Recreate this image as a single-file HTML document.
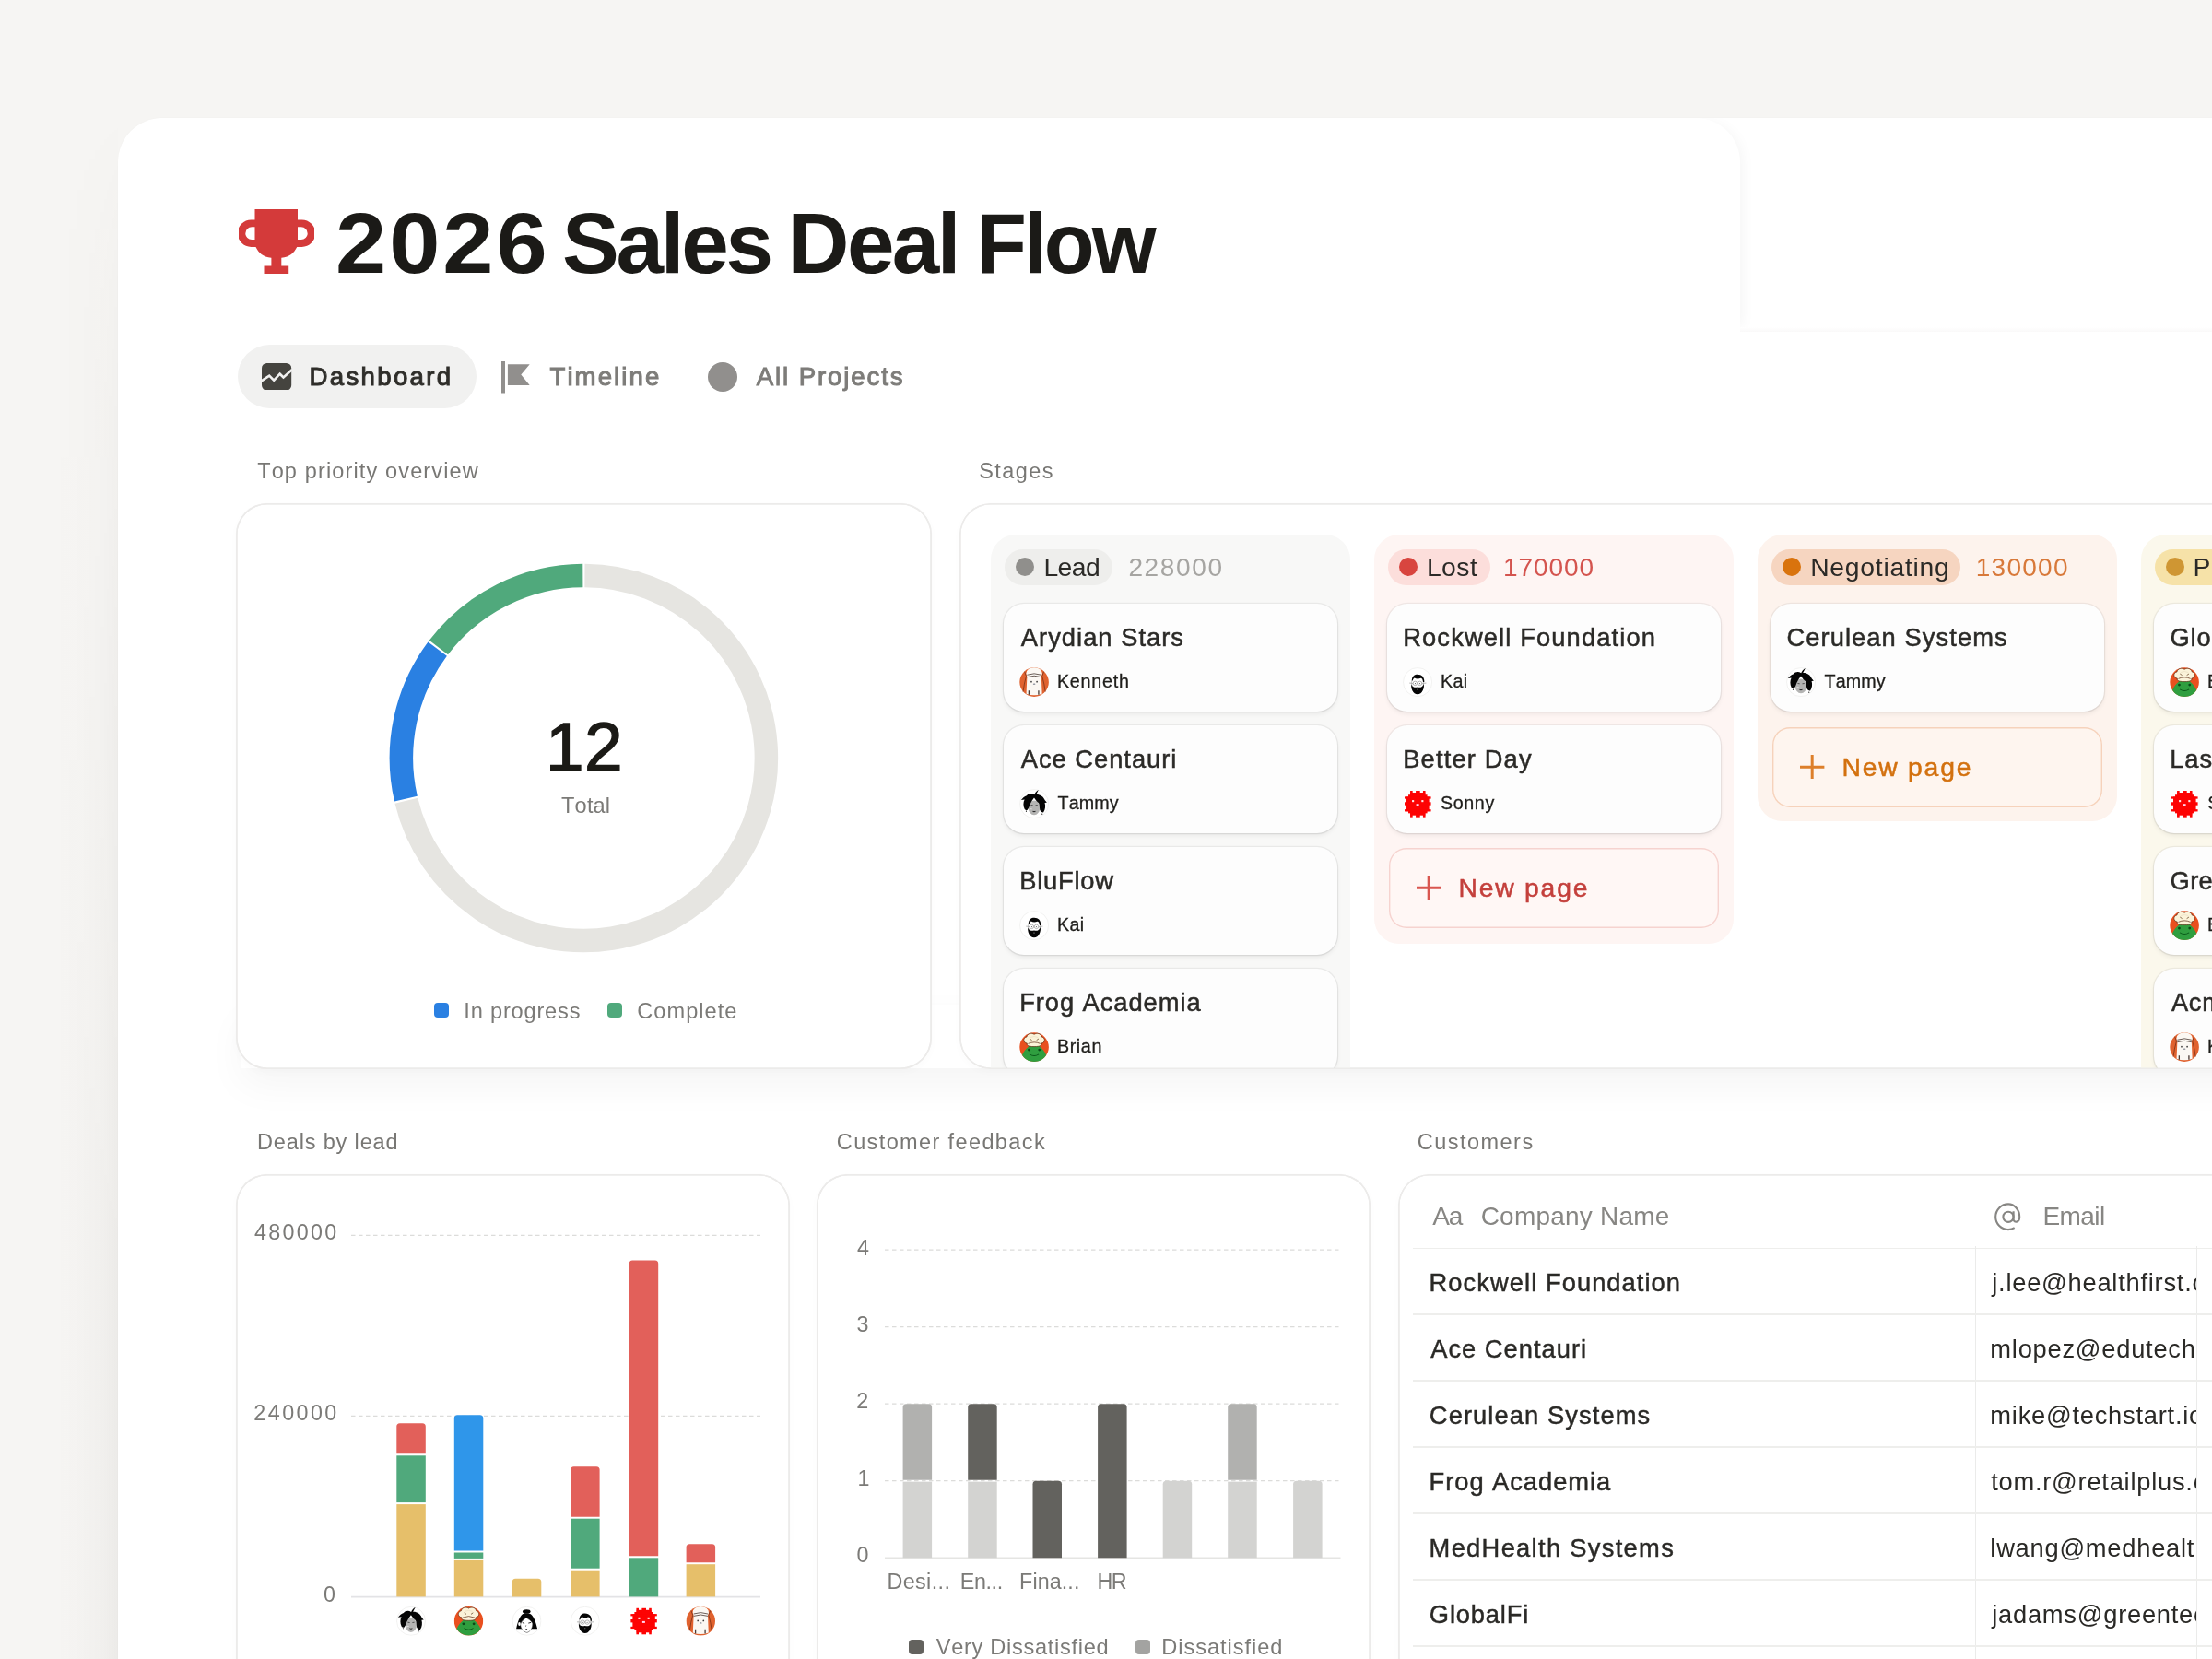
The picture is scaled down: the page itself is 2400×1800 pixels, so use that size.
<!DOCTYPE html>
<html lang="en">
<head>
<meta charset="utf-8">
<title>2026 Sales Deal Flow</title>
<style>
*{box-sizing:border-box;margin:0;padding:0}
html,body{width:2400px;height:1800px;overflow:hidden}
body{background:#f6f5f3;font-family:"Liberation Sans",sans-serif;color:#1f1e1b;position:relative;font-kerning:none}
#root{position:absolute;left:0;top:0;width:2400px;height:1800px;will-change:transform}
.abs{position:absolute}
.t{position:absolute;white-space:nowrap;margin:0;font-weight:400}
#page{position:absolute;left:128px;top:128px;width:2400px;height:1800px;background:#fff;border-radius:48px 0 0 0;box-shadow:0 0 2px rgba(70,60,50,.03)}
#lsh{position:absolute;left:62px;top:120px;width:66px;height:1700px;background:linear-gradient(to right,rgba(60,50,40,0) 0,rgba(60,50,40,.01) 40%,rgba(60,50,40,.028) 75%,rgba(60,50,40,.052) 100%);-webkit-mask-image:linear-gradient(to bottom,transparent 0,rgba(0,0,0,.35) 180px,rgba(0,0,0,.75) 700px,#000 1300px);mask-image:linear-gradient(to bottom,transparent 0,rgba(0,0,0,.35) 180px,rgba(0,0,0,.75) 700px,#000 1300px)}
#ghost{position:absolute;left:0;top:0;width:1760px;height:232px;border-radius:48px 48px 0 0;box-shadow:7px 0 16px -6px rgba(0,0,0,.05);clip-path:inset(0 -40px 0 1500px)}
#ghostb{position:absolute;left:1760px;top:227px;width:700px;height:5px;background:linear-gradient(#fff,#faf9f9)}
.card{position:absolute;background:#fff;border-radius:34px;box-shadow:inset 0 0 0 1.6px #ecebea,0 3px 10px rgba(0,0,0,.018)}
.card::after{content:"";position:absolute;left:0;top:0;right:0;bottom:0;border-radius:34px;box-shadow:inset 0 0 0 1.6px #ecebea;pointer-events:none}
.rowsh{position:absolute;left:262px;width:2300px;box-shadow:0 18px 44px rgba(0,0,0,.042)}
.lg{position:absolute;width:15.8px;height:15.8px;border-radius:4px}
.col{position:absolute;top:34px;width:390px;border-radius:27px}
.pill{position:absolute;left:15px;top:15.5px;height:39.5px;border-radius:20px}
.pill i{position:absolute;left:11.4px;top:9.6px;width:20px;height:20px;border-radius:50%}
.kc{position:absolute;left:14px;width:361.4px;height:117px;border-radius:22px;background:#fdfdfd;box-shadow:0 0 0 1.2px rgba(0,0,0,.055),0 3px 5px rgba(0,0,0,.06),0 1px 2px rgba(0,0,0,.04)}
.ka{position:absolute;width:32.2px;height:32.2px}
.np{position:absolute;left:15.3px;width:358px;height:87px;border-radius:19px}
.np svg{position:absolute;left:30.8px;top:30px}
.c-lead{background:#f8f8f7}.c-lead .pill{background:#eeeeec}.c-lead .pill i{background:#908f8c}
.c-lost{background:#fef5f3}.c-lost .pill{background:#fcdedb}.c-lost .pill i{background:#d8453f}
.c-lost .np{box-shadow:inset 0 0 0 1.4px #f6d3cf;color:#d9564f;background:#fff7f5}
.c-nego{background:#fdf3ed}.c-nego .pill{background:#f6d5c0}.c-nego .pill i{background:#d9730d}
.c-nego .np{box-shadow:inset 0 0 0 1.4px #f6d2bb;color:#dd7f2a;background:#fef5ef}
.c-prop{background:#fbf8ec}.c-prop .pill{background:#f6e2a8}.c-prop .pill i{background:#cf9633}
.hl{position:absolute;left:16px;right:0;height:1.6px;background:#eeeeec}
.vl{position:absolute;top:78px;bottom:0;width:1.5px;background:#ebebea}
</style>
</head>
<body>

<div id="root">
<div id="lsh"></div>
<div id="page"><div id="ghost"></div><div id="ghostb"></div></div>
<svg class="abs" style="left:258.6px;top:226.8px" width="82" height="70.4" viewBox="0 0 82 70.4">
<path fill="#d43a3a" d="M17.5 0H64V11.5H68.5A14.7 14.7 0 0 1 68.5 40.900H63.200C60 47.500 55.500 51.500 46.300 52.800V61.500H54.200V70.400H27.500V61.500H35.400V52.800C26.200 51.500 21.700 47.500 18.500 40.900H13.500A14.700 14.700 0 0 1 13.500 11.500H17.500ZM17.500 19.300H14.200A6.900 6.900 0 0 0 14.200 33.100H17.500ZM64 19.300V33.100H67.800A6.900 6.900 0 0 0 67.800 19.300Z"/></svg>
<h1 style="position:absolute;left:0;top:0;font-size:92.7px;font-weight:700">
<span class="t" style="left:363.66px;top:206px;font-size:92.7px;line-height:116px;color:#1b1a17;letter-spacing:2.82px;font-weight:700;transform:scaleX(1.07);transform-origin:0 0;">2026 </span>
<span class="t" style="left:610.03px;top:206px;font-size:92.7px;line-height:116px;color:#1b1a17;letter-spacing:-3.27px;font-weight:700;">Sales </span>
<span class="t" style="left:854.6px;top:206px;font-size:92.7px;line-height:116px;color:#1b1a17;letter-spacing:-2.62px;font-weight:700;">Deal </span>
<span class="t" style="left:1058.68px;top:206px;font-size:92.7px;line-height:116px;color:#1b1a17;letter-spacing:-3.14px;font-weight:700;transform:scaleX(0.97);transform-origin:0 0;">Flow</span>
</h1>
<div class="abs" style="left:258px;top:374.4px;width:259.3px;height:68.8px;border-radius:35px;background:#f1f1f0"></div>
<svg class="abs" style="left:284.4px;top:393.8px" width="32.200" height="29.600" viewBox="0 0 32.200 29.600">
<rect width="32.200" height="29.600" rx="5.500" fill="#45443f"/><path d="M-1 19.800L8.200 13.600L13.200 18.600L19.700 11.700L23.500 15.400L33 6.900" fill="none" stroke="#f1f1f0" stroke-width="2.600" stroke-linejoin="miter"/></svg>
<div class="t" style="left:335.54px;top:391px;font-size:27.6px;line-height:35px;color:#2f2e2a;letter-spacing:2.32px;-webkit-text-stroke:1px #2f2e2a;">Dashboard</div>
<svg class="abs" style="left:544.3px;top:391.5px" width="32" height="35" viewBox="0 0 32 35">
<rect x="0" y="0" width="4" height="34.500" fill="#918f8d"/><path d="M6.900 3.200H30.700L21.300 14.600L30.700 26H6.900Z" fill="#918f8d"/></svg>
<div class="t" style="left:596.48px;top:391px;font-size:27.6px;line-height:35px;color:#7d7c79;letter-spacing:2.08px;-webkit-text-stroke:1px #7d7c79;">Timeline</div>
<div class="abs" style="left:768px;top:392.600px;width:32.300px;height:32.300px;border-radius:50%;background:#918f8d"></div>
<div class="t" style="left:820.75px;top:391px;font-size:27.6px;line-height:35px;color:#7d7c79;letter-spacing:1.89px;-webkit-text-stroke:1px #7d7c79;">All Projects</div>
<div class="t" style="left:279.17px;top:496px;font-size:23.5px;line-height:30px;color:#787774;letter-spacing:1.14px;">Top priority overview</div>
<div class="t" style="left:1062.13px;top:496px;font-size:23.5px;line-height:30px;color:#787774;letter-spacing:1.43px;">Stages</div>
<div class="t" style="left:278.97px;top:1224px;font-size:23.5px;line-height:30px;color:#787774;letter-spacing:0.85px;">Deals by lead</div>
<div class="t" style="left:907.81px;top:1224px;font-size:23.5px;line-height:30px;color:#787774;letter-spacing:1.38px;">Customer feedback</div>
<div class="t" style="left:1537.71px;top:1224px;font-size:23.5px;line-height:30px;color:#787774;letter-spacing:1.48px;">Customers</div>
<div class="rowsh" style="top:1090px;height:69px"></div>
<div class="card" style="left:256.4px;top:546.3px;width:754.6px;height:613.7px"></div>
<svg class="abs" style="left:0;top:0" width="2400" height="1800" viewBox="0 0 2400 1800"><g fill="none" stroke-width="25.500">
<path stroke="#e6e5e1" d="M634.44 624.50A198 198 0 1 1 440.87 868.72"/><path stroke="#2a80e2" d="M440.40 866.70A198 198 0 0 1 474.65 704.17"/><path stroke="#50a97c" d="M475.90 702.51A198 198 0 0 1 632.36 624.50"/></g></svg>
<div class="t" style="left:591.9px;top:763px;font-size:74.8px;line-height:94px;color:#1b1a16;letter-spacing:0.46px;-webkit-text-stroke:1.4px #1b1a16;">12</div>
<div class="t" style="left:609.07px;top:859px;font-size:23.6px;line-height:30px;color:#7b7a77;letter-spacing:0.14px;">Total</div>
<div class="lg" style="left:471.2px;top:1088.1px;background:#2a80e2"></div>
<div class="t" style="left:503.32px;top:1082px;font-size:23.6px;line-height:30px;color:#7b7a77;letter-spacing:0.81px;">In progress</div>
<div class="lg" style="left:659.1px;top:1088.1px;background:#50a97c"></div>
<div class="t" style="left:691.3px;top:1082px;font-size:23.6px;line-height:30px;color:#7b7a77;letter-spacing:1.03px;">Complete</div>
<div class="card" id="c-stages" style="left:1041px;top:546px;width:1500px;height:614px;overflow:hidden">
<div class="col c-lead" style="left:34.3px;height:700px">
<div class="pill" style="width:116.8px"><i></i></div>
<div class="t" style="left:57.08px;top:17px;font-size:28.3px;line-height:36px;color:#2b2a27;letter-spacing:-0.5px;">Lead</div>
<div class="t" style="left:149.09px;top:18px;font-size:28px;line-height:35px;color:#a6a5a2;letter-spacing:1.67px;">228000</div>
<div class="kc" style="top:75px">
<div class="t" style="left:18.5px;top:19px;font-size:27.3px;line-height:35px;color:#2b2a27;letter-spacing:1.03px;-webkit-text-stroke:0.5px #2b2a27;">Arydian Stars</div>
<svg class="ka" style="left:16.6px;top:69.2px" viewBox="0 0 32 32"><circle cx="16" cy="16" r="15.700" fill="#e0622f"/><path d="M7.300 6.800Q8 0.400 16 0.300Q24 0.400 24.700 6.800L23.700 10.200L24.500 28.600Q16 31.600 7.500 28.600L8.300 10.200Z" fill="#fbf8f3"/><path d="M8.300 8.200Q16 5.400 23.700 8.200M8.300 10.600Q16 7.800 23.700 10.600" stroke="#3a2a24" stroke-width=".750" fill="none"/><path d="M5.600 4.600L7.400 9.500Q5 18 4 26.500M26.400 4.600L24.600 9.500Q27 18 28 26.500" stroke="#6a2a14" stroke-width=".700" fill="none"/><path d="M10.300 25V29.600M20.800 25V29.600" stroke="#4a3a34" stroke-width="1.300" fill="none"/><circle cx="12.900" cy="15.600" r=".850" fill="#3a3a3a"/><circle cx="19" cy="15.600" r=".850" fill="#3a3a3a"/><ellipse cx="16" cy="18.100" rx="1.300" ry=".650" fill="#7c8290"/></svg>
<div class="t" style="left:57.63px;top:72px;font-size:19.7px;line-height:25px;color:#1f1e1b;letter-spacing:0.77px;-webkit-text-stroke:0.3px #1f1e1b;">Kenneth</div>
</div>
<div class="kc" style="top:207px">
<div class="t" style="left:18.5px;top:19px;font-size:27.3px;line-height:35px;color:#2b2a27;letter-spacing:0.98px;-webkit-text-stroke:0.5px #2b2a27;">Ace Centauri</div>
<svg class="ka" style="left:16.6px;top:69.2px" viewBox="0 0 32 32"><circle cx="16" cy="16" r="15.500" fill="#fff" stroke="#efefee" stroke-width=".800"/><g transform="translate(-1.900 -0.300)"><ellipse cx="17.800" cy="20.600" rx="6.200" ry="7.800" fill="#b4b4b3"/><path d="M14.300 17.700L16.500 18M19.300 18L21.500 17.700" stroke="#333" stroke-width=".800" fill="none"/><path d="M16.300 24.300Q17.800 25.300 19.300 24.300" stroke="#222" stroke-width="1" fill="none"/><path d="M13 22.500Q14 21.500 15.500 22" stroke="#eee" stroke-width=".800" fill="none"/><path d="M22.600 1.300L20 6.300C24 6 28 8.500 29.500 12.500L31.600 15L29.300 15.200C30.300 18.500 30 22.500 27.800 25.600C26.500 25.800 24.700 24.800 24 23C23.600 20 23.800 17.500 22.800 15.500C21.200 14.500 19.500 12 17.800 9.700C16 12 14.500 14.500 13.300 17C12.500 19.500 11.800 21.500 10.300 23.200C9.300 23.600 8.300 23.200 7.600 22.200C5.800 19 6 14.500 7.500 11.800L3.800 12.300C5.500 10 7.500 8.300 9.800 7.500C11.500 5.300 15 4.300 18 6.500C18.800 4.500 20.500 2.500 22.600 1.300Z" fill="#050505"/><circle cx="9.300" cy="24.300" r=".550" fill="#050505"/><circle cx="26.500" cy="27.300" r=".550" fill="#050505"/></g></svg>
<div class="t" style="left:58.21px;top:72px;font-size:19.7px;line-height:25px;color:#1f1e1b;letter-spacing:0.13px;-webkit-text-stroke:0.3px #1f1e1b;">Tammy</div>
</div>
<div class="kc" style="top:339px">
<div class="t" style="left:16.91px;top:19px;font-size:27.3px;line-height:35px;color:#2b2a27;letter-spacing:0.78px;-webkit-text-stroke:0.5px #2b2a27;">BluFlow</div>
<svg class="ka" style="left:16.6px;top:69.2px" viewBox="0 0 32 32"><circle cx="16" cy="16" r="15.500" fill="#fff" stroke="#efefee" stroke-width=".800"/><ellipse cx="15.900" cy="16.500" rx="6.500" ry="7" fill="#fff" stroke="#999" stroke-width=".500"/><path d="M9.800 14.500C9.800 9.500 12.800 7.800 16 7.800C20.500 7.800 23.300 10.500 23.200 16L21.900 16C21.700 13 20.500 11.500 19.300 11.800C17 12.800 14.300 12.600 12.600 11.400C11.600 12 10.900 13.200 10.700 14.500Z" fill="#050505"/><path d="M9.200 18.200C9.600 19.800 10.500 20.800 11.800 21.300C13.300 21.900 14.600 21.300 15.900 21.300C17.200 21.300 18.500 21.900 20 21.300C21.400 20.700 22.300 19.500 22.700 17.700C23.600 22.500 21 29.200 15.900 29.200C11 29.200 8.500 22.500 9.200 18.200Z" fill="#050505"/><circle cx="13.300" cy="17.300" r="2.200" fill="none" stroke="#8a8a8a" stroke-width=".600"/><circle cx="18.400" cy="17.300" r="2.200" fill="none" stroke="#8a8a8a" stroke-width=".600"/><path d="M7.200 17L11.100 17.300M25.300 17L20.600 17.300M15.500 17H16.200" stroke="#8a8a8a" stroke-width=".600" fill="none"/><circle cx="13.400" cy="17.500" r=".550" fill="#555"/><circle cx="18.300" cy="17.500" r=".550" fill="#555"/><circle cx="15.900" cy="24" r=".800" fill="#555"/></svg>
<div class="t" style="left:57.63px;top:72px;font-size:19.7px;line-height:25px;color:#1f1e1b;letter-spacing:0.34px;-webkit-text-stroke:0.3px #1f1e1b;">Kai</div>
</div>
<div class="kc" style="top:471px">
<div class="t" style="left:16.91px;top:19px;font-size:27.3px;line-height:35px;color:#2b2a27;letter-spacing:0.94px;-webkit-text-stroke:0.5px #2b2a27;">Frog Academia</div>
<svg class="ka" style="left:16.6px;top:69.2px" viewBox="0 0 32 32"><circle cx="16" cy="16" r="15.700" fill="#e9501f"/><path d="M3 24.500C4.500 20.500 7.500 17.500 9.500 15.800C10.500 13.500 12.500 12.800 16 12.800C19.500 12.800 21.500 13.500 22.500 15.800C24.500 17.500 27.500 20.500 29 24.500C26.500 29 21.500 31.700 16 31.700C10.500 31.700 5.500 29 3 24.500Z" fill="#2f9e3f"/><path d="M8.300 12C4 11.500 3.500 6 7.800 5C9 1 13 0.500 16 2.200C19 0.500 23 1 24.200 5C28.500 6 28 11.500 23.700 12C24.300 14 23 15.500 16 15.500C9 15.500 7.700 14 8.300 12Z" fill="#fbf3d9" stroke="#5a2a12" stroke-width=".700"/><path d="M9.500 12.300Q16 9.300 22.500 12.300" stroke="#5a2a12" stroke-width=".700" fill="none"/><path d="M11.200 7L13.500 8.600M20.800 7L18.500 8.600" stroke="#6a4a2a" stroke-width=".800" fill="none"/><path d="M12 5.500Q16 3.500 20 5.500" stroke="#e8dcc0" stroke-width=".600" fill="none"/><circle cx="10.400" cy="19" r="1.400" fill="#0a4a18"/><circle cx="21.600" cy="19" r="1.400" fill="#0a4a18"/><path d="M11 23.800Q16 27 21 23.800" stroke="#0a5a1a" stroke-width="1" fill="none"/></svg>
<div class="t" style="left:57.63px;top:72px;font-size:19.7px;line-height:25px;color:#1f1e1b;letter-spacing:0.63px;-webkit-text-stroke:0.3px #1f1e1b;">Brian</div>
</div>
<div class="kc" style="top:604px">
<div class="t" style="left:18.43px;top:19px;font-size:27.3px;line-height:35px;color:#2b2a27;letter-spacing:-0.33px;-webkit-text-stroke:0.5px #2b2a27;">Wayne Group</div>
<svg class="ka" style="left:16.6px;top:69.2px" viewBox="0 0 32 32"><circle cx="16" cy="16" r="15.500" fill="#fff" stroke="#efefee" stroke-width=".800"/><ellipse cx="15.800" cy="5.700" rx="4.300" ry="2.300" fill="#050505"/><path d="M11.500 8.500C13 7.300 18.500 7.300 20.300 8.500C24 11 26 18 27.600 24.400L21.500 24.400L10.500 24.400L4.600 24.400C6 18 8 11 11.500 8.500Z" fill="#050505"/><path d="M9.300 19.500C10 16 13 14.500 15.500 12.300C17.500 14 21 15.500 22.300 18.500C22.800 23 20 27.500 16.300 28.600C12.500 27.800 9 24 9.300 19.500Z" fill="#fff" stroke="#222" stroke-width=".500"/><ellipse cx="8" cy="19.300" rx="1.300" ry="2" fill="#fff"/><path d="M11.300 17.800L13.600 18.600M17.800 18.300L20.600 17.600" stroke="#111" stroke-width=".900" fill="none"/><path d="M15.300 20.500L14.900 22" stroke="#333" stroke-width=".600" fill="none"/><ellipse cx="15.700" cy="24.900" rx="1" ry=".650" fill="#333"/></svg>
<div class="t" style="left:57.63px;top:72px;font-size:19.7px;line-height:25px;color:#1f1e1b;-webkit-text-stroke:0.3px #1f1e1b;">Mei</div>
</div>
</div>
<div class="col c-lost" style="left:450.3px;height:444px">
<div class="pill" style="width:110.8px"><i></i></div>
<div class="t" style="left:56.58px;top:17px;font-size:28.3px;line-height:36px;color:#2b2a27;letter-spacing:0.48px;">Lost</div>
<div class="t" style="left:139.67px;top:18px;font-size:28px;line-height:35px;color:#d4544e;letter-spacing:0.94px;">170000</div>
<div class="kc" style="top:75px">
<div class="t" style="left:16.91px;top:19px;font-size:27.3px;line-height:35px;color:#2b2a27;letter-spacing:1.13px;-webkit-text-stroke:0.5px #2b2a27;">Rockwell Foundation</div>
<svg class="ka" style="left:16.6px;top:69.2px" viewBox="0 0 32 32"><circle cx="16" cy="16" r="15.500" fill="#fff" stroke="#efefee" stroke-width=".800"/><ellipse cx="15.900" cy="16.500" rx="6.500" ry="7" fill="#fff" stroke="#999" stroke-width=".500"/><path d="M9.800 14.500C9.800 9.500 12.800 7.800 16 7.800C20.500 7.800 23.300 10.500 23.200 16L21.900 16C21.700 13 20.500 11.500 19.300 11.800C17 12.800 14.300 12.600 12.600 11.400C11.600 12 10.900 13.200 10.700 14.500Z" fill="#050505"/><path d="M9.200 18.200C9.600 19.800 10.500 20.800 11.800 21.300C13.300 21.900 14.600 21.300 15.900 21.300C17.200 21.300 18.500 21.900 20 21.300C21.400 20.700 22.300 19.500 22.700 17.700C23.600 22.500 21 29.200 15.900 29.200C11 29.200 8.500 22.500 9.200 18.200Z" fill="#050505"/><circle cx="13.300" cy="17.300" r="2.200" fill="none" stroke="#8a8a8a" stroke-width=".600"/><circle cx="18.400" cy="17.300" r="2.200" fill="none" stroke="#8a8a8a" stroke-width=".600"/><path d="M7.200 17L11.100 17.300M25.300 17L20.600 17.300M15.500 17H16.200" stroke="#8a8a8a" stroke-width=".600" fill="none"/><circle cx="13.400" cy="17.500" r=".550" fill="#555"/><circle cx="18.300" cy="17.500" r=".550" fill="#555"/><circle cx="15.900" cy="24" r=".800" fill="#555"/></svg>
<div class="t" style="left:57.63px;top:72px;font-size:19.7px;line-height:25px;color:#1f1e1b;letter-spacing:0.34px;-webkit-text-stroke:0.3px #1f1e1b;">Kai</div>
</div>
<div class="kc" style="top:207px">
<div class="t" style="left:16.91px;top:19px;font-size:27.3px;line-height:35px;color:#2b2a27;letter-spacing:1.16px;-webkit-text-stroke:0.5px #2b2a27;">Better Day</div>
<svg class="ka" style="left:16.6px;top:69.2px" viewBox="0 0 32 32"><g fill="#fd0303"><rect x="4" y="8.500" width="24.400" height="15.500"/><rect x="8.300" y="4" width="15.800" height="24.500"/><rect x="6" y="6.200" width="20.400" height="20"/><rect x="8" y="2" width="2.600" height="28.500"/><rect x="14" y="2" width="4.600" height="28.500"/><rect x="21.800" y="2" width="2.600" height="28.500"/><rect x="2" y="8.300" width="28.400" height="2.300"/><rect x="2" y="14.200" width="28.400" height="3.400"/><rect x="2" y="22" width="28.400" height="2.300"/></g><rect x="10" y="12" width="2.100" height="2.100" fill="#ffe9e9"/><rect x="20.200" y="12" width="2.100" height="2.100" fill="#ffe9e9"/><rect x="14.500" y="16.100" width="3" height="2" fill="#ffd6f0"/></svg>
<div class="t" style="left:57.76px;top:72px;font-size:19.7px;line-height:25px;color:#1f1e1b;letter-spacing:0.59px;-webkit-text-stroke:0.3px #1f1e1b;">Sonny</div>
</div>
<div class="np" style="top:340px"><svg width="26.400" height="26.400" viewBox="0 0 26.400 26.400"><path d="M13.200 0V26.400M0 13.200H26.400" stroke="currentColor" stroke-width="3" fill="none"/></svg>
<div class="t" style="left:75.93px;top:25px;font-size:28.3px;line-height:36px;color:#c4403c;letter-spacing:1.78px;-webkit-text-stroke:0.5px #c4403c;">New page</div>
</div>
</div>
<div class="col c-nego" style="left:866.3px;height:311px">
<div class="pill" style="width:205.2px"><i></i></div>
<div class="t" style="left:56.88px;top:17px;font-size:28.3px;line-height:36px;color:#2b2a27;letter-spacing:0.75px;">Negotiating</div>
<div class="t" style="left:236.47px;top:18px;font-size:28px;line-height:35px;color:#d8793a;letter-spacing:1.26px;">130000</div>
<div class="kc" style="top:75px">
<div class="t" style="left:17.16px;top:19px;font-size:27.3px;line-height:35px;color:#2b2a27;letter-spacing:1.08px;-webkit-text-stroke:0.5px #2b2a27;">Cerulean Systems</div>
<svg class="ka" style="left:16.6px;top:69.2px" viewBox="0 0 32 32"><circle cx="16" cy="16" r="15.500" fill="#fff" stroke="#efefee" stroke-width=".800"/><g transform="translate(-1.900 -0.300)"><ellipse cx="17.800" cy="20.600" rx="6.200" ry="7.800" fill="#b4b4b3"/><path d="M14.300 17.700L16.500 18M19.300 18L21.500 17.700" stroke="#333" stroke-width=".800" fill="none"/><path d="M16.300 24.300Q17.800 25.300 19.300 24.300" stroke="#222" stroke-width="1" fill="none"/><path d="M13 22.500Q14 21.500 15.500 22" stroke="#eee" stroke-width=".800" fill="none"/><path d="M22.600 1.300L20 6.300C24 6 28 8.500 29.500 12.500L31.600 15L29.300 15.200C30.300 18.500 30 22.500 27.800 25.600C26.500 25.800 24.700 24.800 24 23C23.600 20 23.800 17.500 22.800 15.500C21.200 14.500 19.500 12 17.800 9.700C16 12 14.500 14.500 13.300 17C12.500 19.500 11.800 21.500 10.300 23.200C9.300 23.600 8.300 23.200 7.600 22.200C5.800 19 6 14.500 7.500 11.800L3.800 12.300C5.500 10 7.500 8.300 9.800 7.500C11.500 5.300 15 4.300 18 6.500C18.800 4.500 20.500 2.500 22.600 1.300Z" fill="#050505"/><circle cx="9.300" cy="24.300" r=".550" fill="#050505"/><circle cx="26.500" cy="27.300" r=".550" fill="#050505"/></g></svg>
<div class="t" style="left:58.21px;top:72px;font-size:19.7px;line-height:25px;color:#1f1e1b;letter-spacing:0.13px;-webkit-text-stroke:0.3px #1f1e1b;">Tammy</div>
</div>
<div class="np" style="top:209px"><svg width="26.400" height="26.400" viewBox="0 0 26.400 26.400"><path d="M13.200 0V26.400M0 13.200H26.400" stroke="currentColor" stroke-width="3" fill="none"/></svg>
<div class="t" style="left:75.93px;top:25px;font-size:28.3px;line-height:36px;color:#d3710f;letter-spacing:1.78px;-webkit-text-stroke:0.5px #d3710f;">New page</div>
</div>
</div>
<div class="col c-prop" style="left:1282.4px;height:700px">
<div class="pill" style="width:200px"><i></i></div>
<div class="t" style="left:56.18px;top:17px;font-size:28.3px;line-height:36px;color:#2b2a27;">Proposal</div>
<div class="t" style="left:195.83px;top:18px;font-size:28px;line-height:35px;color:#c29343;">310000</div>
<div class="kc" style="top:75px">
<div class="t" style="left:17.18px;top:19px;font-size:27.3px;line-height:35px;color:#2b2a27;letter-spacing:0.81px;-webkit-text-stroke:0.5px #2b2a27;">GlobalFi</div>
<svg class="ka" style="left:16.6px;top:69.2px" viewBox="0 0 32 32"><circle cx="16" cy="16" r="15.700" fill="#e9501f"/><path d="M3 24.500C4.500 20.500 7.500 17.500 9.500 15.800C10.500 13.500 12.500 12.800 16 12.800C19.500 12.800 21.500 13.500 22.500 15.800C24.500 17.500 27.500 20.500 29 24.500C26.500 29 21.500 31.700 16 31.700C10.500 31.700 5.500 29 3 24.500Z" fill="#2f9e3f"/><path d="M8.300 12C4 11.500 3.500 6 7.800 5C9 1 13 0.500 16 2.200C19 0.500 23 1 24.200 5C28.500 6 28 11.500 23.700 12C24.300 14 23 15.500 16 15.500C9 15.500 7.700 14 8.300 12Z" fill="#fbf3d9" stroke="#5a2a12" stroke-width=".700"/><path d="M9.500 12.300Q16 9.300 22.500 12.300" stroke="#5a2a12" stroke-width=".700" fill="none"/><path d="M11.200 7L13.500 8.600M20.800 7L18.500 8.600" stroke="#6a4a2a" stroke-width=".800" fill="none"/><path d="M12 5.500Q16 3.500 20 5.500" stroke="#e8dcc0" stroke-width=".600" fill="none"/><circle cx="10.400" cy="19" r="1.400" fill="#0a4a18"/><circle cx="21.600" cy="19" r="1.400" fill="#0a4a18"/><path d="M11 23.800Q16 27 21 23.800" stroke="#0a5a1a" stroke-width="1" fill="none"/></svg>
<div class="t" style="left:57.63px;top:72px;font-size:19.7px;line-height:25px;color:#1f1e1b;letter-spacing:0.63px;-webkit-text-stroke:0.3px #1f1e1b;">Brian</div>
</div>
<div class="kc" style="top:207px">
<div class="t" style="left:16.91px;top:19px;font-size:27.3px;line-height:35px;color:#2b2a27;letter-spacing:0.89px;-webkit-text-stroke:0.5px #2b2a27;">Laser Wolf</div>
<svg class="ka" style="left:16.6px;top:69.2px" viewBox="0 0 32 32"><g fill="#fd0303"><rect x="4" y="8.500" width="24.400" height="15.500"/><rect x="8.300" y="4" width="15.800" height="24.500"/><rect x="6" y="6.200" width="20.400" height="20"/><rect x="8" y="2" width="2.600" height="28.500"/><rect x="14" y="2" width="4.600" height="28.500"/><rect x="21.800" y="2" width="2.600" height="28.500"/><rect x="2" y="8.300" width="28.400" height="2.300"/><rect x="2" y="14.200" width="28.400" height="3.400"/><rect x="2" y="22" width="28.400" height="2.300"/></g><rect x="10" y="12" width="2.100" height="2.100" fill="#ffe9e9"/><rect x="20.200" y="12" width="2.100" height="2.100" fill="#ffe9e9"/><rect x="14.500" y="16.100" width="3" height="2" fill="#ffd6f0"/></svg>
<div class="t" style="left:57.76px;top:72px;font-size:19.7px;line-height:25px;color:#1f1e1b;letter-spacing:0.59px;-webkit-text-stroke:0.3px #1f1e1b;">Sonny</div>
</div>
<div class="kc" style="top:339px">
<div class="t" style="left:17.18px;top:19px;font-size:27.3px;line-height:35px;color:#2b2a27;letter-spacing:0.36px;-webkit-text-stroke:0.5px #2b2a27;">GreenTech</div>
<svg class="ka" style="left:16.6px;top:69.2px" viewBox="0 0 32 32"><circle cx="16" cy="16" r="15.700" fill="#e9501f"/><path d="M3 24.500C4.500 20.500 7.500 17.500 9.500 15.800C10.500 13.500 12.500 12.800 16 12.800C19.500 12.800 21.500 13.500 22.500 15.800C24.500 17.500 27.500 20.500 29 24.500C26.500 29 21.500 31.700 16 31.700C10.500 31.700 5.500 29 3 24.500Z" fill="#2f9e3f"/><path d="M8.300 12C4 11.500 3.500 6 7.800 5C9 1 13 0.500 16 2.200C19 0.500 23 1 24.200 5C28.500 6 28 11.500 23.700 12C24.300 14 23 15.500 16 15.500C9 15.500 7.700 14 8.300 12Z" fill="#fbf3d9" stroke="#5a2a12" stroke-width=".700"/><path d="M9.500 12.300Q16 9.300 22.500 12.300" stroke="#5a2a12" stroke-width=".700" fill="none"/><path d="M11.200 7L13.500 8.600M20.800 7L18.500 8.600" stroke="#6a4a2a" stroke-width=".800" fill="none"/><path d="M12 5.500Q16 3.500 20 5.500" stroke="#e8dcc0" stroke-width=".600" fill="none"/><circle cx="10.400" cy="19" r="1.400" fill="#0a4a18"/><circle cx="21.600" cy="19" r="1.400" fill="#0a4a18"/><path d="M11 23.800Q16 27 21 23.800" stroke="#0a5a1a" stroke-width="1" fill="none"/></svg>
<div class="t" style="left:57.63px;top:72px;font-size:19.7px;line-height:25px;color:#1f1e1b;letter-spacing:0.63px;-webkit-text-stroke:0.3px #1f1e1b;">Brian</div>
</div>
<div class="kc" style="top:471px">
<div class="t" style="left:18.5px;top:19px;font-size:27.3px;line-height:35px;color:#2b2a27;letter-spacing:0.69px;-webkit-text-stroke:0.5px #2b2a27;">Acme Corp</div>
<svg class="ka" style="left:16.6px;top:69.2px" viewBox="0 0 32 32"><circle cx="16" cy="16" r="15.700" fill="#e0622f"/><path d="M7.300 6.800Q8 0.400 16 0.300Q24 0.400 24.700 6.800L23.700 10.200L24.500 28.600Q16 31.600 7.500 28.600L8.300 10.200Z" fill="#fbf8f3"/><path d="M8.300 8.200Q16 5.400 23.700 8.200M8.300 10.600Q16 7.800 23.700 10.600" stroke="#3a2a24" stroke-width=".750" fill="none"/><path d="M5.600 4.600L7.400 9.500Q5 18 4 26.500M26.400 4.600L24.600 9.500Q27 18 28 26.500" stroke="#6a2a14" stroke-width=".700" fill="none"/><path d="M10.300 25V29.600M20.800 25V29.600" stroke="#4a3a34" stroke-width="1.300" fill="none"/><circle cx="12.900" cy="15.600" r=".850" fill="#3a3a3a"/><circle cx="19" cy="15.600" r=".850" fill="#3a3a3a"/><ellipse cx="16" cy="18.100" rx="1.300" ry=".650" fill="#7c8290"/></svg>
<div class="t" style="left:57.63px;top:72px;font-size:19.7px;line-height:25px;color:#1f1e1b;letter-spacing:0.77px;-webkit-text-stroke:0.3px #1f1e1b;">Kenneth</div>
</div>
<div class="kc" style="top:604px">
<div class="t" style="left:16.63px;top:19px;font-size:27.3px;line-height:35px;color:#2b2a27;letter-spacing:1.59px;-webkit-text-stroke:0.5px #2b2a27;">Initech</div>
<svg class="ka" style="left:16.6px;top:69.2px" viewBox="0 0 32 32"><circle cx="16" cy="16" r="15.500" fill="#fff" stroke="#efefee" stroke-width=".800"/><ellipse cx="15.900" cy="16.500" rx="6.500" ry="7" fill="#fff" stroke="#999" stroke-width=".500"/><path d="M9.800 14.500C9.800 9.500 12.800 7.800 16 7.800C20.500 7.800 23.300 10.500 23.200 16L21.900 16C21.700 13 20.500 11.500 19.300 11.800C17 12.800 14.300 12.600 12.600 11.400C11.600 12 10.900 13.200 10.700 14.500Z" fill="#050505"/><path d="M9.200 18.200C9.600 19.800 10.500 20.800 11.800 21.300C13.300 21.900 14.600 21.300 15.900 21.300C17.200 21.300 18.500 21.900 20 21.300C21.400 20.700 22.300 19.500 22.700 17.700C23.600 22.500 21 29.200 15.900 29.200C11 29.200 8.500 22.500 9.200 18.200Z" fill="#050505"/><circle cx="13.300" cy="17.300" r="2.200" fill="none" stroke="#8a8a8a" stroke-width=".600"/><circle cx="18.400" cy="17.300" r="2.200" fill="none" stroke="#8a8a8a" stroke-width=".600"/><path d="M7.200 17L11.100 17.300M25.300 17L20.600 17.300M15.500 17H16.200" stroke="#8a8a8a" stroke-width=".600" fill="none"/><circle cx="13.400" cy="17.500" r=".550" fill="#555"/><circle cx="18.300" cy="17.500" r=".550" fill="#555"/><circle cx="15.900" cy="24" r=".800" fill="#555"/></svg>
<div class="t" style="left:57.63px;top:72px;font-size:19.7px;line-height:25px;color:#1f1e1b;letter-spacing:0.34px;-webkit-text-stroke:0.3px #1f1e1b;">Kai</div>
</div>
</div>
</div>
<div class="card" style="left:256.4px;top:1274px;width:600.5px;height:700px"></div>
<div class="card" style="left:886.4px;top:1274px;width:600.5px;height:700px"></div>
<svg class="abs" style="left:0;top:0" width="2400" height="1800" viewBox="0 0 2400 1800">
<path d="M381 1340.3H825M381 1536.3H825" stroke="#dcdcda" stroke-width="1.200" stroke-dasharray="4.500 3.500" fill="none"/>
<path d="M381 1732.600H825" stroke="#e3e3e6" stroke-width="1.800"/>
<rect fill="#e6bf6a" x="430.3" y="1632.1" width="31.5" height="100.3"/>
<rect fill="#50a97c" x="430.3" y="1579.3" width="31.5" height="50.8"/>
<path fill="#e2605a" d="M430.3 1577.3V1547.8Q430.3 1544.3 433.8 1544.3H458.3Q461.8 1544.3 461.8 1547.8V1577.3Z"/>
<rect fill="#e6bf6a" x="492.8" y="1692.9" width="31.5" height="39.5"/>
<rect fill="#50a97c" x="492.8" y="1684.5" width="31.5" height="6.4"/>
<path fill="#2f96ea" d="M492.8 1682.5V1538.8Q492.8 1535.3 496.3 1535.3H520.8Q524.3 1535.3 524.3 1538.8V1682.5Z"/>
<path fill="#e6bf6a" d="M555.8 1732.4V1716.3Q555.8 1712.8 559.3 1712.8H583.8Q587.3 1712.8 587.3 1716.3V1732.4Z"/>
<rect fill="#e6bf6a" x="619.1" y="1703.7" width="31.5" height="28.7"/>
<rect fill="#50a97c" x="619.1" y="1647.7" width="31.5" height="54"/>
<path fill="#e2605a" d="M619.1 1645.7V1594.8Q619.1 1591.3 622.6 1591.3H647.1Q650.6 1591.3 650.6 1594.8V1645.7Z"/>
<rect fill="#50a97c" x="682.7" y="1690.3" width="31.5" height="42.1"/>
<path fill="#e2605a" d="M682.7 1688.3V1371Q682.7 1367.5 686.2 1367.5H710.7Q714.2 1367.5 714.2 1371V1688.3Z"/>
<rect fill="#e6bf6a" x="744.6" y="1697.2" width="31.5" height="35.2"/>
<path fill="#e2605a" d="M744.6 1695.2V1678.7Q744.6 1675.2 748.1 1675.2H772.6Q776.1 1675.2 776.1 1678.7V1695.2Z"/>
<svg x="430" y="1742.800" width="32" height="32" viewBox="0 0 32 32"><circle cx="16" cy="16" r="15.500" fill="#fff" stroke="#efefee" stroke-width=".800"/><g transform="translate(-1.900 -0.300)"><ellipse cx="17.800" cy="20.600" rx="6.200" ry="7.800" fill="#b4b4b3"/><path d="M14.300 17.700L16.500 18M19.300 18L21.500 17.700" stroke="#333" stroke-width=".800" fill="none"/><path d="M16.300 24.300Q17.800 25.300 19.300 24.300" stroke="#222" stroke-width="1" fill="none"/><path d="M13 22.500Q14 21.500 15.500 22" stroke="#eee" stroke-width=".800" fill="none"/><path d="M22.600 1.300L20 6.300C24 6 28 8.500 29.500 12.500L31.600 15L29.300 15.200C30.300 18.500 30 22.500 27.800 25.600C26.500 25.800 24.700 24.800 24 23C23.600 20 23.800 17.500 22.800 15.500C21.200 14.500 19.500 12 17.800 9.700C16 12 14.500 14.500 13.300 17C12.500 19.500 11.800 21.500 10.300 23.200C9.300 23.600 8.300 23.200 7.600 22.200C5.800 19 6 14.500 7.500 11.800L3.800 12.300C5.500 10 7.500 8.300 9.800 7.500C11.500 5.300 15 4.300 18 6.500C18.800 4.500 20.500 2.500 22.600 1.300Z" fill="#050505"/><circle cx="9.300" cy="24.300" r=".550" fill="#050505"/><circle cx="26.500" cy="27.300" r=".550" fill="#050505"/></g></svg>
<svg x="492.5" y="1742.800" width="32" height="32" viewBox="0 0 32 32"><circle cx="16" cy="16" r="15.700" fill="#e9501f"/><path d="M3 24.500C4.500 20.500 7.500 17.500 9.500 15.800C10.500 13.500 12.500 12.800 16 12.800C19.500 12.800 21.500 13.500 22.500 15.800C24.500 17.500 27.500 20.500 29 24.500C26.500 29 21.500 31.700 16 31.700C10.500 31.700 5.500 29 3 24.500Z" fill="#2f9e3f"/><path d="M8.300 12C4 11.500 3.500 6 7.800 5C9 1 13 0.500 16 2.200C19 0.500 23 1 24.200 5C28.500 6 28 11.500 23.700 12C24.300 14 23 15.500 16 15.500C9 15.500 7.700 14 8.300 12Z" fill="#fbf3d9" stroke="#5a2a12" stroke-width=".700"/><path d="M9.500 12.300Q16 9.300 22.500 12.300" stroke="#5a2a12" stroke-width=".700" fill="none"/><path d="M11.200 7L13.500 8.600M20.800 7L18.500 8.600" stroke="#6a4a2a" stroke-width=".800" fill="none"/><path d="M12 5.500Q16 3.500 20 5.500" stroke="#e8dcc0" stroke-width=".600" fill="none"/><circle cx="10.400" cy="19" r="1.400" fill="#0a4a18"/><circle cx="21.600" cy="19" r="1.400" fill="#0a4a18"/><path d="M11 23.800Q16 27 21 23.800" stroke="#0a5a1a" stroke-width="1" fill="none"/></svg>
<svg x="555.5" y="1742.800" width="32" height="32" viewBox="0 0 32 32"><circle cx="16" cy="16" r="15.500" fill="#fff" stroke="#efefee" stroke-width=".800"/><ellipse cx="15.800" cy="5.700" rx="4.300" ry="2.300" fill="#050505"/><path d="M11.500 8.500C13 7.300 18.500 7.300 20.300 8.500C24 11 26 18 27.600 24.400L21.500 24.400L10.500 24.400L4.600 24.400C6 18 8 11 11.500 8.500Z" fill="#050505"/><path d="M9.300 19.500C10 16 13 14.500 15.500 12.300C17.500 14 21 15.500 22.300 18.500C22.800 23 20 27.500 16.300 28.600C12.500 27.800 9 24 9.300 19.500Z" fill="#fff" stroke="#222" stroke-width=".500"/><ellipse cx="8" cy="19.300" rx="1.300" ry="2" fill="#fff"/><path d="M11.300 17.800L13.600 18.600M17.800 18.300L20.600 17.600" stroke="#111" stroke-width=".900" fill="none"/><path d="M15.300 20.500L14.900 22" stroke="#333" stroke-width=".600" fill="none"/><ellipse cx="15.700" cy="24.900" rx="1" ry=".650" fill="#333"/></svg>
<svg x="618.8" y="1742.800" width="32" height="32" viewBox="0 0 32 32"><circle cx="16" cy="16" r="15.500" fill="#fff" stroke="#efefee" stroke-width=".800"/><ellipse cx="15.900" cy="16.500" rx="6.500" ry="7" fill="#fff" stroke="#999" stroke-width=".500"/><path d="M9.800 14.500C9.800 9.500 12.800 7.800 16 7.800C20.500 7.800 23.300 10.500 23.200 16L21.900 16C21.700 13 20.500 11.500 19.300 11.800C17 12.800 14.300 12.600 12.600 11.400C11.600 12 10.900 13.200 10.700 14.500Z" fill="#050505"/><path d="M9.200 18.200C9.600 19.800 10.500 20.800 11.800 21.300C13.300 21.900 14.600 21.300 15.900 21.300C17.200 21.300 18.500 21.900 20 21.300C21.400 20.700 22.300 19.500 22.700 17.700C23.600 22.500 21 29.200 15.900 29.200C11 29.200 8.500 22.500 9.200 18.200Z" fill="#050505"/><circle cx="13.300" cy="17.300" r="2.200" fill="none" stroke="#8a8a8a" stroke-width=".600"/><circle cx="18.400" cy="17.300" r="2.200" fill="none" stroke="#8a8a8a" stroke-width=".600"/><path d="M7.200 17L11.100 17.300M25.300 17L20.600 17.300M15.500 17H16.200" stroke="#8a8a8a" stroke-width=".600" fill="none"/><circle cx="13.400" cy="17.500" r=".550" fill="#555"/><circle cx="18.300" cy="17.500" r=".550" fill="#555"/><circle cx="15.900" cy="24" r=".800" fill="#555"/></svg>
<svg x="682.4" y="1742.800" width="32" height="32" viewBox="0 0 32 32"><g fill="#fd0303"><rect x="4" y="8.500" width="24.400" height="15.500"/><rect x="8.300" y="4" width="15.800" height="24.500"/><rect x="6" y="6.200" width="20.400" height="20"/><rect x="8" y="2" width="2.600" height="28.500"/><rect x="14" y="2" width="4.600" height="28.500"/><rect x="21.800" y="2" width="2.600" height="28.500"/><rect x="2" y="8.300" width="28.400" height="2.300"/><rect x="2" y="14.200" width="28.400" height="3.400"/><rect x="2" y="22" width="28.400" height="2.300"/></g><rect x="10" y="12" width="2.100" height="2.100" fill="#ffe9e9"/><rect x="20.200" y="12" width="2.100" height="2.100" fill="#ffe9e9"/><rect x="14.500" y="16.100" width="3" height="2" fill="#ffd6f0"/></svg>
<svg x="744.3" y="1742.800" width="32" height="32" viewBox="0 0 32 32"><circle cx="16" cy="16" r="15.700" fill="#e0622f"/><path d="M7.300 6.800Q8 0.400 16 0.300Q24 0.400 24.700 6.800L23.700 10.200L24.500 28.600Q16 31.600 7.500 28.600L8.300 10.200Z" fill="#fbf8f3"/><path d="M8.300 8.200Q16 5.400 23.700 8.200M8.300 10.600Q16 7.800 23.700 10.600" stroke="#3a2a24" stroke-width=".750" fill="none"/><path d="M5.600 4.600L7.400 9.500Q5 18 4 26.500M26.400 4.600L24.600 9.500Q27 18 28 26.500" stroke="#6a2a14" stroke-width=".700" fill="none"/><path d="M10.300 25V29.600M20.800 25V29.600" stroke="#4a3a34" stroke-width="1.300" fill="none"/><circle cx="12.900" cy="15.600" r=".850" fill="#3a3a3a"/><circle cx="19" cy="15.600" r=".850" fill="#3a3a3a"/><ellipse cx="16" cy="18.100" rx="1.300" ry=".650" fill="#7c8290"/></svg>
<path d="M960 1356.200H1454.500M960 1439.600H1454.500M960 1523.100H1454.500M960 1606.600H1454.500" stroke="#dcdcda" stroke-width="1.200" stroke-dasharray="4.500 3.500" fill="none"/>
<path d="M960 1690.400H1454.500" stroke="#e5e5e3" stroke-width="2"/>
<rect fill="#d3d3d1" x="979.6" y="1607.65" width="31.5" height="82.55"/>
<path fill="#b1b1af" d="M979.6 1605.85V1526.8Q979.6 1523.3 983.1 1523.3H1007.6Q1011.1 1523.3 1011.1 1526.8V1605.85Z"/>
<rect fill="#d3d3d1" x="1050.2" y="1607.65" width="31.5" height="82.55"/>
<path fill="#63625e" d="M1050.2 1605.85V1526.8Q1050.2 1523.3 1053.7 1523.3H1078.2Q1081.7 1523.3 1081.7 1526.8V1605.85Z"/>
<path fill="#63625e" d="M1120.5 1690.2V1610.25Q1120.5 1606.75 1124 1606.75H1148.5Q1152 1606.75 1152 1610.25V1690.2Z"/>
<path fill="#63625e" d="M1191.1 1690.2V1526.8Q1191.1 1523.3 1194.6 1523.3H1219.1Q1222.6 1523.3 1222.6 1526.8V1690.2Z"/>
<path fill="#d3d3d1" d="M1261.7 1690.2V1610.25Q1261.7 1606.75 1265.2 1606.75H1289.7Q1293.2 1606.75 1293.2 1610.25V1690.2Z"/>
<rect fill="#d3d3d1" x="1332.2" y="1607.65" width="31.5" height="82.55"/>
<path fill="#b1b1af" d="M1332.2 1605.85V1526.8Q1332.2 1523.3 1335.7 1523.3H1360.2Q1363.7 1523.3 1363.7 1526.8V1605.85Z"/>
<path fill="#d3d3d1" d="M1403.1 1690.2V1610.25Q1403.1 1606.75 1406.6 1606.75H1431.1Q1434.6 1606.75 1434.6 1610.25V1690.2Z"/>
</svg>
<div class="t" style="left:275.97px;top:1322px;font-size:23.3px;line-height:30px;color:#7b7a77;letter-spacing:2.32px;">480000</div>
<div class="t" style="left:275.33px;top:1518px;font-size:23.3px;line-height:30px;color:#7b7a77;letter-spacing:2.45px;">240000</div>
<div class="t" style="left:350.99px;top:1715px;font-size:23.3px;line-height:30px;color:#7b7a77;">0</div>
<div class="t" style="left:929.97px;top:1339px;font-size:23.3px;line-height:30px;color:#7b7a77;">4</div>
<div class="t" style="left:929.61px;top:1422px;font-size:23.3px;line-height:30px;color:#7b7a77;">3</div>
<div class="t" style="left:929.33px;top:1505px;font-size:23.3px;line-height:30px;color:#7b7a77;">2</div>
<div class="t" style="left:930.53px;top:1589px;font-size:23.3px;line-height:30px;color:#7b7a77;">1</div>
<div class="t" style="left:929.59px;top:1672px;font-size:23.3px;line-height:30px;color:#7b7a77;">0</div>
<div class="t" style="left:962.39px;top:1701px;font-size:23.3px;line-height:30px;color:#7b7a77;letter-spacing:0.43px;">Desi...</div>
<div class="t" style="left:1041.69px;top:1701px;font-size:23.3px;line-height:30px;color:#7b7a77;letter-spacing:-0.35px;">En...</div>
<div class="t" style="left:1106.09px;top:1701px;font-size:23.3px;line-height:30px;color:#7b7a77;letter-spacing:0.1px;">Fina...</div>
<div class="t" style="left:1190.49px;top:1701px;font-size:23.3px;line-height:30px;color:#7b7a77;letter-spacing:-1.46px;">HR</div>
<div class="lg" style="left:986.3px;top:1778.8px;background:#63625e"></div>
<div class="t" style="left:1015.7px;top:1772px;font-size:23.6px;line-height:30px;color:#7b7a77;letter-spacing:0.71px;">Very Dissatisfied</div>
<div class="lg" style="left:1231.8px;top:1778.8px;background:#a3a3a1"></div>
<div class="t" style="left:1260.26px;top:1772px;font-size:23.6px;line-height:30px;color:#7b7a77;letter-spacing:0.95px;">Dissatisfied</div>
<div class="card" id="c-cust" style="left:1517.3px;top:1274px;width:1100px;height:700px;overflow:hidden">
<div class="t" style="left:36.85px;top:28px;font-size:28px;line-height:35px;color:#878683;letter-spacing:-1.19px;">Aa</div>
<div class="t" style="left:89.38px;top:28px;font-size:28px;line-height:35px;color:#878683;letter-spacing:0.21px;">Company Name</div>
<svg class="abs" style="left:647.2px;top:31.2px" width="30.500" height="30.500" viewBox="0 0 30.500 30.500" fill="none" stroke="#878683" stroke-width="2.100"><circle cx="15" cy="15.300" r="5.600"/><path d="M20.600 9.200V17.800C20.600 22 27.200 22 27.200 15.300C27.200 7.500 21.500 1.400 15 1.400C7.300 1.400 1.200 7.500 1.200 15.300C1.200 23 7.300 29.100 15 29.100C17.500 29.100 19.800 28.400 21.700 27.200"/></svg>
<div class="t" style="left:699.2px;top:28px;font-size:28px;line-height:35px;color:#878683;letter-spacing:-0.59px;">Email</div>
<div class="hl" style="top:79.6px"></div>
<div class="vl" style="left:625.3px"></div><div class="vl" style="left:865.6px"></div>
<div class="abs" style="left:626.7px;top:82px;width:239.3px;height:600px;overflow:hidden">
<div class="t" style="left:17.27px;top:18px;font-size:27.3px;line-height:35px;color:#2a2926;letter-spacing:0.75px;">j.lee@healthfirst.com</div>
<div class="t" style="left:15.39px;top:90px;font-size:27.3px;line-height:35px;color:#2a2926;letter-spacing:0.75px;">mlopez@edutech.org</div>
<div class="t" style="left:15.39px;top:162px;font-size:27.3px;line-height:35px;color:#2a2926;letter-spacing:0.75px;">mike@techstart.io</div>
<div class="t" style="left:16.19px;top:234px;font-size:27.3px;line-height:35px;color:#2a2926;letter-spacing:0.75px;">tom.r@retailplus.com</div>
<div class="t" style="left:15.36px;top:306px;font-size:27.3px;line-height:35px;color:#2a2926;letter-spacing:0.75px;">lwang@medhealth.com</div>
<div class="t" style="left:17.27px;top:378px;font-size:27.3px;line-height:35px;color:#2a2926;letter-spacing:0.75px;">jadams@greentech.io</div>
<div class="t" style="left:15.44px;top:450px;font-size:27.3px;line-height:35px;color:#2a2926;letter-spacing:0.75px;">b.wayne@waynegroup.com</div>
</div>
<div class="t" style="left:33.29px;top:100px;font-size:27.3px;line-height:35px;color:#2a2926;letter-spacing:1.06px;-webkit-text-stroke:0.45px #2a2926;">Rockwell Foundation</div>
<div class="hl" style="top:151.3px"></div>
<div class="t" style="left:34.87px;top:172px;font-size:27.3px;line-height:35px;color:#2a2926;letter-spacing:1.02px;-webkit-text-stroke:0.45px #2a2926;">Ace Centauri</div>
<div class="hl" style="top:223.3px"></div>
<div class="t" style="left:33.54px;top:244px;font-size:27.3px;line-height:35px;color:#2a2926;letter-spacing:1.09px;-webkit-text-stroke:0.45px #2a2926;">Cerulean Systems</div>
<div class="hl" style="top:295.3px"></div>
<div class="t" style="left:33.29px;top:316px;font-size:27.3px;line-height:35px;color:#2a2926;letter-spacing:0.96px;-webkit-text-stroke:0.45px #2a2926;">Frog Academia</div>
<div class="hl" style="top:367.3px"></div>
<div class="t" style="left:33.29px;top:388px;font-size:27.3px;line-height:35px;color:#2a2926;letter-spacing:1.31px;-webkit-text-stroke:0.45px #2a2926;">MedHealth Systems</div>
<div class="hl" style="top:439.3px"></div>
<div class="t" style="left:33.55px;top:460px;font-size:27.3px;line-height:35px;color:#2a2926;letter-spacing:0.82px;-webkit-text-stroke:0.45px #2a2926;">GlobalFi</div>
<div class="hl" style="top:511.3px"></div>
<div class="t" style="left:34.81px;top:532px;font-size:27.3px;line-height:35px;color:#2a2926;-webkit-text-stroke:0.45px #2a2926;">Wayne Group</div>
<div class="hl" style="top:583.3px"></div>
</div>
</div>
</body>
</html>
